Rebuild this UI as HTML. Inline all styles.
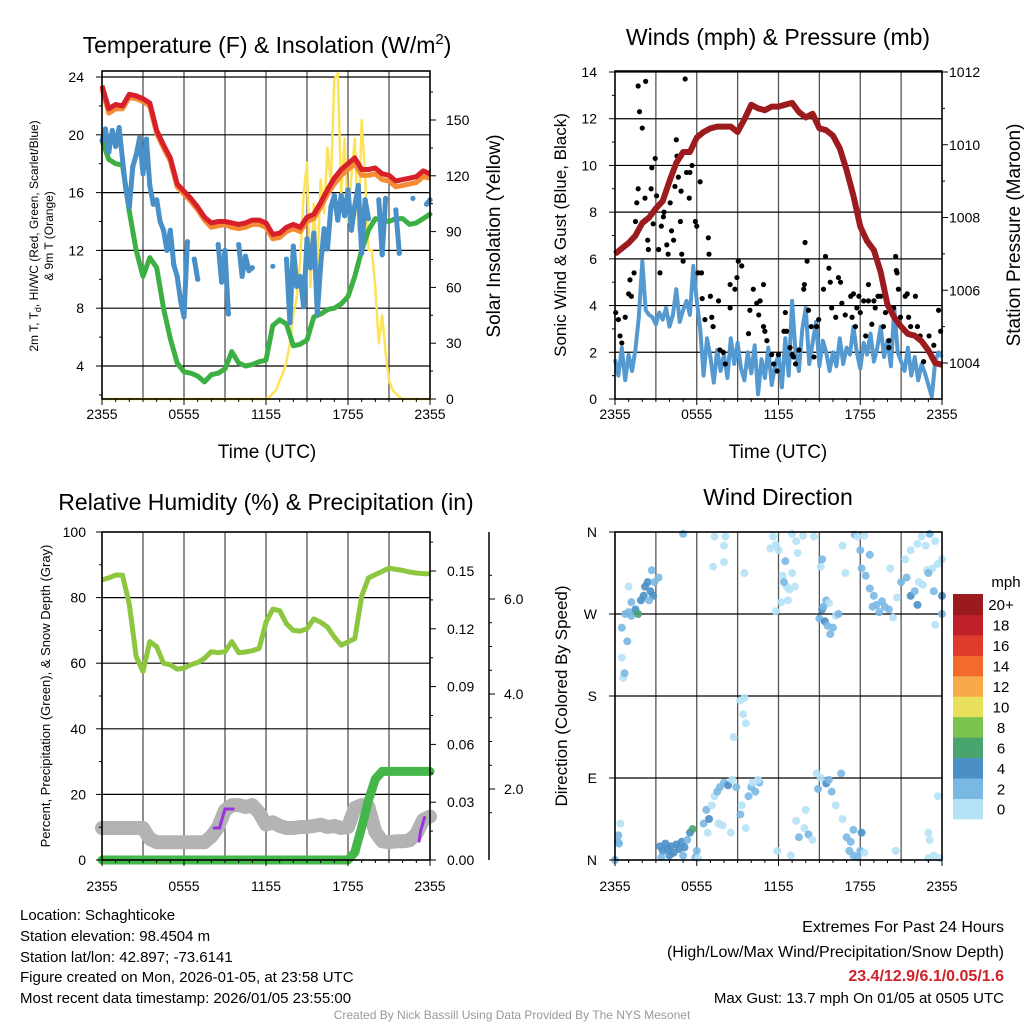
<!DOCTYPE html>
<html><head><meta charset="utf-8"><style>
html,body{margin:0;padding:0;background:#fff;}
svg{display:block;font-family:"Liberation Sans",Arial,sans-serif;}
</style></head><body>
<svg id="chart" width="1024" height="1024" viewBox="0 0 1024 1024" xmlns="http://www.w3.org/2000/svg">
<rect width="1024" height="1024" fill="#fff"/>
<g id="p1"></g>
<g id="p2"></g>
<g id="p3"></g>
<g id="p4"></g>
<g id="txt" font-size="15" fill="#000">
<text x="267" y="53" font-size="23" text-anchor="middle">Temperature (F) &amp; Insolation (W/m<tspan dy="-9" font-size="15">2</tspan><tspan dy="9">)</tspan></text>
<text x="778" y="45" font-size="23" text-anchor="middle">Winds (mph) &amp; Pressure (mb)</text>
<text x="266" y="510" font-size="23" text-anchor="middle">Relative Humidity (%) &amp; Precipitation (in)</text>
<text x="778" y="505" font-size="23" text-anchor="middle">Wind Direction</text>
<text x="267" y="458" font-size="19" text-anchor="middle">Time (UTC)</text>
<text x="778" y="458" font-size="19" text-anchor="middle">Time (UTC)</text>
<text transform="translate(38,236) rotate(-90)" font-size="12" text-anchor="middle">2m T, T<tspan dy="3" font-size="9">d</tspan><tspan dy="-3">, HI/WC (Red, Green, Scarlet/Blue)</tspan></text>
<text transform="translate(53,236) rotate(-90)" font-size="12" text-anchor="middle">&amp; 9m T (Orange)</text>
<text transform="translate(500,236) rotate(-90)" font-size="19" text-anchor="middle">Solar Insolation (Yellow)</text>
<text transform="translate(566,235) rotate(-90)" font-size="17" text-anchor="middle">Sonic Wind &amp; Gust (Blue, Black)</text>
<text transform="translate(1020,235) rotate(-90)" font-size="19" text-anchor="middle">Station Pressure (Maroon)</text>
<text transform="translate(50,696) rotate(-90)" font-size="13" text-anchor="middle">Percent, Precipitation (Green), &amp; Snow Depth (Gray)</text>
<text transform="translate(567,696) rotate(-90)" font-size="17" text-anchor="middle">Direction (Colored By Speed)</text>
<text x="20" y="920">Location: Schaghticoke</text>
<text x="20" y="941">Station elevation: 98.4504 m</text>
<text x="20" y="962">Station lat/lon: 42.897; -73.6141</text>
<text x="20" y="982">Figure created on Mon, 2026-01-05, at 23:58 UTC</text>
<text x="20" y="1003">Most recent data timestamp: 2026/01/05 23:55:00</text>
<text x="1004" y="932" text-anchor="end" font-size="16">Extremes For Past 24 Hours</text>
<text x="1004" y="957" text-anchor="end" font-size="16">(High/Low/Max Wind/Precipitation/Snow Depth)</text>
<text x="1004" y="981" text-anchor="end" font-size="16" font-weight="bold" fill="#d0222a">23.4/12.9/6.1/0.05/1.6</text>
<text x="1004" y="1003" text-anchor="end" font-size="15">Max Gust: 13.7 mph On 01/05 at 0505 UTC</text>
<text x="512" y="1019" text-anchor="middle" font-size="12" fill="#999">Created By Nick Bassill Using Data Provided By The NYS Mesonet</text>
</g>
</svg>
<script>
// ---------- DATA ----------
const xTickLabels = ["2355","0555","1155","1755","2355"];
// Panel 1 (0.5 h steps)
const tempRed = [23.4,21.8,22.1,22.0,22.8,22.7,22.5,22.2,20.3,19.3,18.4,16.6,16.1,15.6,15.0,14.3,13.9,14.0,14.0,13.9,13.8,13.9,14.1,14.1,13.9,13.1,13.2,13.6,13.8,13.6,14.3,14.5,15.3,16.2,17.0,17.6,18.0,18.4,17.6,17.6,17.7,17.3,17.2,16.8,16.9,17.0,17.1,17.5,17.3];
const tempOrange = [23.2,21.5,21.8,21.8,22.6,22.5,22.3,22.0,20.1,19.1,18.2,16.4,15.9,15.4,14.8,14.1,13.6,13.7,13.8,13.6,13.5,13.6,13.8,13.8,13.6,12.8,12.9,13.3,13.5,13.3,14.0,14.2,15.0,15.9,16.6,17.2,17.6,18.0,17.2,17.2,17.3,16.9,16.8,16.4,16.5,16.6,16.7,17.1,17.0];
const dewGreen = [19.6,18.3,18.0,17.9,14.7,12.0,10.2,11.5,10.8,8.0,5.9,4.2,3.6,3.5,3.3,2.9,3.4,3.5,3.8,5.0,4.2,4.0,4.1,4.3,4.4,6.8,7.2,6.9,5.4,5.5,5.8,7.4,7.6,7.9,8.0,8.3,8.8,10.2,12.0,13.4,14.2,14.1,14.0,14.2,14.2,13.8,13.9,14.2,14.5];
// 0.25 h steps
const hiwcBlue = [19.6,20.4,18.8,20.3,19.2,20.5,18.3,16.2,15.0,17.8,18.6,19.8,17.3,19.7,16.5,15.2,15.5,14.0,13.4,12.0,13.4,11.0,10.2,8.5,7.4,12.6,null,11.4,10.0,null,null,null,null,null,12.4,9.8,12.0,7.6,null,null,12.4,10.2,11.6,10.6,10.8,null,null,null,null,null,10.9,null,null,null,11.4,7.0,12.3,9.5,10.2,8.1,12.8,10.8,13.2,7.6,11.0,13.5,12.1,15.0,15.8,14.1,15.8,14.4,16.2,13.4,15.1,16.5,11.8,15.5,14.2,null,null,15.5,11.7,15.6,null,null,14.8,11.8,null,null,null,15.6,null,null,null,15.2,15.5];
const solar = [0,0,0,0,0,0,0,0,0,0,0,0,0,0,0,0,0,0,0,0,0,0,0,0,0,0,0,0,0,0,0,0,0,0,0,0,0,0,0,0,0,0,0,0,0,0,0,0,0,1,3,5,10,14,20,30,45,55,75,110,127,60,105,70,118,100,135,115,172,175,110,140,95,120,140,90,150,120,80,80,60,30,45,25,10,5,3,1,0,0,0,0,0,0,0,0,0];
// Panel 2
const sonicWind = [1.7,1.0,2.2,0.8,1.9,1.2,2.1,3.5,5.9,3.8,3.6,3.5,3.2,3.7,3.4,3.9,3.1,3.6,4.7,3.3,3.8,4.2,3.6,5.7,4.2,3.0,1.0,2.6,1.8,0.7,2.1,1.2,1.9,0.9,2.6,1.5,2.4,1.3,0.8,2.0,1.1,2.3,0.2,1.7,0.9,2.2,0.6,1.4,1.9,0.5,2.6,1.0,4.2,2.0,1.2,3.0,3.9,1.5,2.4,3.3,1.4,2.5,2.0,1.2,2.0,1.4,2.6,1.5,2.2,1.9,3.1,2.0,1.3,2.4,1.9,2.8,1.6,2.2,3.1,1.8,2.5,1.4,3.9,2.0,1.6,1.2,2.2,1.0,1.8,0.8,1.5,1.1,0.6,0.1,1.6,2.0,1.8];
const pressure = [1007.0,1007.15,1007.3,1007.5,1007.85,1008.0,1008.25,1008.45,1009.0,1009.5,1009.8,1009.8,1010.2,1010.35,1010.45,1010.5,1010.5,1010.5,1010.35,1010.7,1011.1,1011.0,1010.95,1011.05,1011.05,1011.1,1011.15,1010.9,1010.75,1010.85,1010.45,1010.4,1010.25,1009.9,1009.3,1008.6,1007.75,1007.35,1007.1,1006.5,1005.6,1005.25,1005.0,1004.8,1004.75,1004.6,1004.35,1004.0,1003.95];
const gustT = [0.05,0.25,0.37,0.5,0.75,1.0,1.1,1.2,1.4,1.5,1.6,1.7,1.7,1.8,2.0,2.2,2.25,2.4,2.45,2.65,2.7,2.8,2.95,3.05,3.2,3.3,3.4,3.55,3.6,3.8,3.9,4.05,4.15,4.3,4.4,4.5,4.55,4.65,4.8,4.85,4.9,5.0,5.15,5.25,5.45,5.5,5.65,5.9,6.0,6.1,6.25,6.35,6.4,6.6,6.85,6.9,7.0,7.1,7.2,7.6,7.7,7.95,8.1,8.45,8.45,8.8,8.95,9.05,9.3,9.8,9.9,10.15,10.4,10.55,10.65,10.9,10.9,11.0,11.15,11.5,11.65,11.9,12.0,12.5,12.4,12.6,12.85,13.0,13.1,13.25,13.5,13.85,13.9,13.95,14.1,14.2,14.4,14.6,14.8,14.95,15.3,15.45,15.7,15.8,15.9,16.2,16.4,16.55,16.65,16.9,17.3,17.4,17.5,17.65,17.75,17.9,18.0,18.25,18.4,18.6,18.6,18.85,19.0,19.1,19.3,19.5,19.7,19.85,20.1,20.1,20.45,20.6,20.65,20.7,20.8,20.95,21.3,21.45,21.55,21.7,22.05,22.2,22.4,22.65,23.05,23.4,23.75,23.9];
const gustV = [3.7,3.4,2.7,2.4,3.5,4.5,5.1,4.4,5.4,7.6,8.4,9.0,13.4,12.3,11.6,8.6,13.6,6.8,6.4,9.0,9.9,7.5,10.3,8.7,6.4,5.4,7.4,7.8,8.0,6.6,6.2,8.4,7.2,6.8,9.1,11.1,10.4,9.5,7.6,8.9,6.2,5.9,13.7,9.7,8.6,9.7,10.0,7.6,7.4,5.4,9.3,5.4,4.3,3.4,6.9,6.2,4.4,3.5,3.1,4.2,2.1,2.0,1.5,4.9,3.9,4.7,5.2,5.9,5.7,2.8,3.8,4.7,4.1,3.6,4.2,4.9,3.1,2.9,2.5,1.9,1.5,1.2,1.9,3.7,2.9,2.9,2.2,1.9,1.8,1.5,2.1,4.7,4.9,6.7,5.9,3.8,3.1,1.8,3.1,3.4,4.7,6.1,5.6,5.0,3.9,3.5,5.2,5.0,4.1,3.6,4.4,3.5,4.5,3.1,3.9,4.4,3.7,4.2,2.7,4.2,4.9,3.2,4.2,3.9,4.4,4.4,3.1,3.7,2.5,2.2,3.9,6.1,5.5,5.4,4.7,3.5,4.4,4.5,3.5,3.1,4.4,3.1,2.7,1.6,2.7,2.3,3.8,2.9];
// Panel 3 (0.5 h)
const relHum = [85.4,86.0,86.9,86.8,78,62,57.5,66.6,65,60,59.5,58.2,58.5,59.5,60.2,61.5,63.5,63.2,63.5,66.6,63.2,63.4,63.8,64.5,72.5,76.5,76.0,72,70,69.8,70.5,73.5,72.5,71,68,65.5,66.5,67.5,80.5,86.0,87,88,89,88.6,88.3,87.8,87.5,87.3,87.3];
const precip = [0,0,0,0,0,0,0,0,0,0,0,0,0,0,0,0,0,0,0,0,0,0,0,0,0,0,0,0,0,0,0,0,0,0,0,0,0,0.004,0.017,0.031,0.042,0.046,0.046,0.046,0.046,0.046,0.046,0.046,0.046];
const snowDepth = [1.18,1.18,1.18,1.18,1.18,1.18,1.18,0.95,0.88,0.88,0.88,0.88,0.88,0.88,0.88,0.88,1.0,1.2,1.55,1.66,1.66,1.62,1.66,1.5,1.25,1.3,1.22,1.18,1.18,1.2,1.2,1.22,1.25,1.2,1.22,1.18,1.2,1.6,1.66,1.62,1.1,0.9,0.88,0.9,0.9,0.92,1.05,1.35,1.42];
const newSnowT = [8.2,8.6,9.0,9.6,null,23.2,23.3,23.6];
const newSnowV = [1.18,1.18,1.58,1.58,null,0.9,1.1,1.4];
// Panel 4
const dirT = [0,0.25,0.4,0.2,0.3,0.75,1.0,1.2,1.5,1.7,1.9,2.1,2.2,2.4,2.6,2.8,2.9,2.7,3.2,2.5,1.2,1.0,0.5,0.9,0.5,0.6,0.7,3.3,3.5,3.7,3.9,4.1,4.3,4.5,4.7,4.9,5.1,5.3,5.5,5.7,3.4,4.0,5.0,5.9,6.1,6.0,5.0,6.5,6.7,6.9,7.1,7.3,7.5,7.7,8.0,8.3,8.6,8.9,6.8,7.6,7.9,8.5,9.3,9.6,10.0,10.3,10.6,9.8,10.1,10.5,9.2,9.2,9.5,9.4,9.6,8.7,7.3,8.1,8.0,7.2,8.0,9.5,11.4,11.8,11.6,12.0,13.0,13.3,13.8,14.6,13.4,12.6,12.8,12.2,11.8,12.3,12.5,12.4,12.7,13.2,13.0,15.1,15.2,16.9,16.7,11.9,12.9,13.5,13.9,14.2,14.5,14.9,15.1,15.5,15.7,15.9,16.2,16.7,14.0,13.3,14.8,16.6,15.0,15.2,15.4,15.6,15.8,16.0,16.2,16.4,15.5,15.7,15.3,17.6,17.8,18.3,18.0,18.7,18.1,18.4,18.7,19.0,18.9,19.2,19.4,19.6,19.8,20.1,20.4,20.7,21.0,21.4,21.7,22.0,22.3,22.6,22.9,23.3,23.7,24.0,21.3,21.7,22.2,22.5,22.8,23.1,23.5,23.0,24.0,24.0,23.5,20.2,22.2,23.4,17.2,17.5,17.8,18.0,18.3,17.3,17.0,18.1,17.5,20.6,23.0,23.1,23.4,23.0,23.8,23.7];
const dirDeg = [0,27,40,20,18,270,272,268,275,270,285,290,300,305,295,290,305,318,310,285,283,300,255,240,222,200,205,15,10,18,12,15,8,17,12,20,14,22,30,34,3,5,5,3,2,10,358,40,55,45,60,70,75,80,85,82,88,80,30,40,38,30,60,35,80,75,85,70,85,88,50,175,178,160,150,135,355,355,345,322,327,315,342,346,355,340,358,350,356,355,337,300,297,283,273,312,328,305,285,300,315,322,330,315,345,10,5,25,35,28,22,78,90,84,88,75,60,45,55,43,95,95,265,275,262,257,248,255,268,270,285,282,278,357,355,356,340,335,320,312,298,290,278,280,272,284,278,275,266,288,305,310,290,295,305,302,318,320,325,330,330,340,347,355,345,358,350,315,290,270,258,320,280,295,10,5,3,10,8,20,25,30,33,10,30,22,5,2,2,70];
const dirSpd = [3,3,1,3,3,3,3,3,4,6.5,4,5,5,5,4,5,3,3,3,3,3,1,3,3,1,1,3,4,4,4,4,4,4,4,4,4,4,3,4,6.5,3,4,3,3,1,3,3,3,3,4,1,1,3,3,3,5,1,3,1,1,1,1,1,1,3,3,3,3,1,1,3,1,1,1,1,1,1,1,1,1,1,1,1,1,1,1,1,1,1,1,1,1,1,1,1,1,3,3,1,1,1,1,3,1,1,1,1,3,1,3,1,3,1,5,3,3,1,1,1,1,1,3,3,4,5,3,3,3,1,3,3,1,3,3,1,1,3,3,3,3,3,3,3,3,3,3,3,3,1,1,3,3,5,3,1,1,1,1,1,1,1,1,1,1,1,3,1,3,4,3,1,1,4,3,3,3,3,3,1,3,3,4,3,1,1,1,1,1,1,1];
const speedLabels = ["0","2","4","6","8","10","12","14","16","18","20+"];
const speedColors = ["#b6e2f7","#7ab8e4","#4a8fc6","#48a56e","#7cc34e","#e8e05a","#f9a94a","#f26a2c","#e03a2c","#c0202a","#9b1a1e"];

// ---------- HELPERS ----------
const NS="http://www.w3.org/2000/svg";
function mk(parent,tag,attrs){const e=document.createElementNS(NS,tag);for(const k in attrs)e.setAttribute(k,attrs[k]);parent.appendChild(e);return e;}
function lin(d0,d1,r0,r1){return v=>r0+(v-d0)*(r1-r0)/(d1-d0);}
function linePath(ts,vs,sx,sy){let d="",pen=false;for(let i=0;i<vs.length;i++){if(vs[i]==null||ts[i]==null){pen=false;continue;}d+=(pen?"L":"M")+sx(ts[i]).toFixed(1)+","+sy(vs[i]).toFixed(1);pen=true;}return d;}
function steps(n,dt){const a=[];for(let i=0;i<n;i++)a.push(i*dt);return a;}

function frame(g,L,T,R,B,hLines){
  // vertical grid every 3h
  const sx=lin(0,24,L,R);
  for(let h=3;h<24;h+=3){const l=mk(g,"line",{x1:sx(h),x2:sx(h),y1:T,y2:B,stroke:"#555","stroke-width":1.3});
    
    }
  hLines.forEach(y=>{const l=mk(g,"line",{x1:L,x2:R,y1:y,y2:y,stroke:"#000","stroke-width":1.2});
    
    });
}
function border(g,L,T,R,B){const r=mk(g,"rect",{x:L,y:T,width:R-L,height:B-T,fill:"none",stroke:"#000","stroke-width":1.6});
  
  }
function xAxis(g,L,R,B,ty){
  const sx=lin(0,24,L,R);
  for(let h=0;h<=24;h+=1){const len=h%6===0?6:3;mk(g,"line",{x1:sx(h),x2:sx(h),y1:B,y2:B+len,stroke:"#000","stroke-width":1});}
  xTickLabels.forEach((lab,i)=>{const t=mk(g,"text",{x:sx(i*6),y:ty,"font-size":14,"text-anchor":"middle"});t.textContent=lab;
    
    });
}
function yTicks(g,x,scale,vals,labels,side,lx,minor,fs){
  vals.forEach((v,i)=>{const y=scale(v);mk(g,"line",{x1:x,x2:x+(side<0?-6:6),y1:y,y2:y,stroke:"#000","stroke-width":1});
    if(labels[i]!==""){const t=mk(g,"text",{x:lx,y:y+5,"font-size":fs||14,"text-anchor":side<0?"end":"start"});t.textContent=labels[i];
    
    }});
  (minor||[]).forEach(v=>{const y=scale(v);mk(g,"line",{x1:x,x2:x+(side<0?-3:3),y1:y,y2:y,stroke:"#000","stroke-width":1});});
}

// ---------- PANEL 1 ----------
(function(){
  const g=document.getElementById("p1");
  const L=102,T=71,R=430,B=399;
  const sx=lin(0,24,L,R), sy=lin(4,24,366,77), sr=lin(0,150,399,120);
  frame(g,L,T,R,B,[4,8,12,16,20,24].map(sy));
  const t05=steps(49,0.5), t025=steps(97,0.25);
  let p=mk(g,"path",{d:linePath(t025,solar,sx,sr),fill:"none",stroke:"#fde35a","stroke-width":2.5,"stroke-linejoin":"round"});
  
  
  p=mk(g,"path",{d:linePath(t05,dewGreen,sx,sy),fill:"none",stroke:"#3cb043","stroke-width":5,"stroke-linejoin":"round","stroke-linecap":"round"});
  
  
  p=mk(g,"path",{d:linePath(t025,hiwcBlue,sx,sy),fill:"none",stroke:"#4a90c8","stroke-width":5,"stroke-linejoin":"round","stroke-linecap":"round"});
  
  
  hiwcBlue.forEach((v,i)=>{if(v==null)return;const c=mk(g,"circle",{cx:sx(t025[i]),cy:sy(v),r:2.6,fill:"#4a90c8"});
    
    });
  p=mk(g,"path",{d:linePath(t05,tempOrange,sx,sy),fill:"none",stroke:"#f58a34","stroke-width":5,"stroke-linejoin":"round"});
  
  
  p=mk(g,"path",{d:linePath(t05,tempRed,sx,sy),fill:"none",stroke:"#d7202a","stroke-width":5,"stroke-linejoin":"round"});
  
  
  border(g,L,T,R,B);
  xAxis(g,L,R,B,419);
  yTicks(g,L,sy,[4,8,12,16,20,24],["4","8","12","16","20","24"],-1,84,[2,6,10,14,18,22]);
  yTicks(g,R,sr,[0,30,60,90,120,150],["0","30","60","90","120","150"],1,446,[15,45,75,105,135,165]);
})();

// ---------- PANEL 2 ----------
(function(){
  const g=document.getElementById("p2");
  const L=615,T=71,R=942,B=399;
  const sx=lin(0,24,L,R), sy=lin(0,14,399,72), sp=lin(1004,1012,363,72);
  frame(g,L,T,R,B,[2,4,6,8,10,12,14].map(sy));
  const t05=steps(49,0.5), t025=steps(97,0.25);
  let p=mk(g,"path",{d:linePath(t025,sonicWind,sx,sy),fill:"none",stroke:"#5499d0","stroke-width":4,"stroke-linejoin":"round"});
  
  
  gustT.forEach((t,i)=>{const c=mk(g,"circle",{cx:sx(t),cy:sy(gustV[i]),r:2.6,fill:"#000"});
    
    });
  p=mk(g,"path",{d:linePath(t05,pressure,sx,sp),fill:"none",stroke:"#9b1b1e","stroke-width":6,"stroke-linejoin":"round"});
  
  
  border(g,L,T,R,B);
  xAxis(g,L,R,B,419);
  yTicks(g,L,sy,[0,2,4,6,8,10,12,14],["0","2","4","6","8","10","12","14"],-1,597,[1,3,5,7,9,11,13]);
  yTicks(g,R,sp,[1004,1006,1008,1010,1012],["1004","1006","1008","1010","1012"],1,949,[1005,1007,1009,1011]);
})();

// ---------- PANEL 3 ----------
(function(){
  const g=document.getElementById("p3");
  const L=102,T=532,R=430,B=860;
  const sx=lin(0,24,L,R), sy=lin(0,100,860,532), spr=lin(0,0.15,860,571), ssn=lin(0,6,884,599);
  frame(g,L,T,R,B,[20,40,60,80].map(sy));
  const t05=steps(49,0.5);
  let p=mk(g,"path",{d:linePath(t05,snowDepth,sx,ssn),fill:"none",stroke:"#b3b3b3","stroke-width":14,"stroke-linejoin":"round","stroke-linecap":"round"});
  
  
  p=mk(g,"path",{d:linePath(newSnowT,newSnowV,sx,ssn),fill:"none",stroke:"#9b30e0","stroke-width":3,"stroke-linecap":"round"});
  
  
  p=mk(g,"path",{d:linePath(t05,relHum,sx,sy),fill:"none",stroke:"#8dc63f","stroke-width":5,"stroke-linejoin":"round"});
  
  
  p=mk(g,"path",{d:linePath(t05,precip,sx,spr),fill:"none",stroke:"#45b649","stroke-width":9,"stroke-linejoin":"round","stroke-linecap":"round"});
  
  
  border(g,L,T,R,B);
  xAxis(g,L,R,B,891);
  yTicks(g,L,sy,[0,20,40,60,80,100],["0","20","40","60","80","100"],-1,86,[10,30,50,70,90]);
  yTicks(g,R,spr,[0,0.03,0.06,0.09,0.12,0.15],["0.00","0.03","0.06","0.09","0.12","0.15"],1,447,[0.015,0.045,0.075,0.105,0.135,0.165]);
  const ax=mk(g,"line",{x1:489,x2:489,y1:532,y2:860,stroke:"#000","stroke-width":1.5});
  
  
  yTicks(g,489,ssn,[2,4,6],["2.0","4.0","6.0"],1,504,[1.5,2.5,3,3.5,4.5,5,5.5,6.5]);
})();

// ---------- PANEL 4 ----------
(function(){
  const g=document.getElementById("p4");
  const L=615,T=532,R=942,B=860;
  const sx=lin(0,24,L,R), sy=lin(0,360,860,532);
  frame(g,L,T,R,B,[90,180,270].map(sy));
  dirT.forEach((t,i)=>{const ci=Math.min(10,Math.floor(dirSpd[i]/2));
    const c=mk(g,"circle",{cx:sx(t),cy:sy(dirDeg[i]),r:4,fill:speedColors[ci],"fill-opacity":0.9});
    
    });
  border(g,L,T,R,B);
  xAxis(g,L,R,B,891);
  yTicks(g,L,sy,[0,90,180,270,360],["N","E","S","W","N"],-1,597,[]);
  // colorbar
  const bx=953,by=594,bh=20.45;
  for(let i=0;i<11;i++){
    const r=mk(g,"rect",{x:bx,y:by+(10-i)*bh,width:30,height:bh+0.5,fill:speedColors[i]});
    
    
    const t=mk(g,"text",{x:1001,y:by+(10-i)*bh+bh/2+6,"font-size":15,"text-anchor":"middle"});t.textContent=speedLabels[i];
    
    
  }
  const u=mk(g,"text",{x:1006,y:587,"font-size":15,"text-anchor":"middle"});u.textContent="mph";
  
  
})();
</script>
</body></html>
